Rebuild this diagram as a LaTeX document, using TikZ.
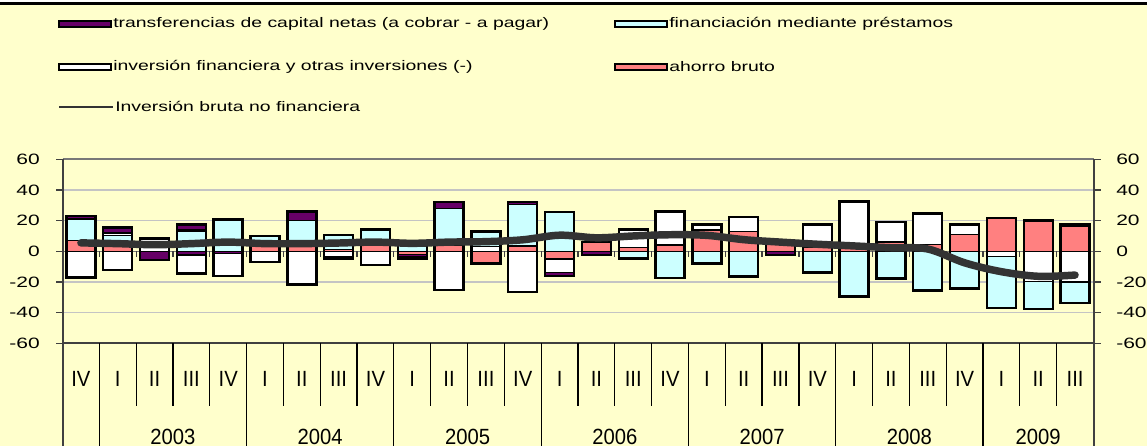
\documentclass[tikz,border=0pt]{standalone}
\usepackage{fontspec}
\setmainfont{Liberation Sans}[FakeStretch=1.4]
\newfontfamily\catfont{Liberation Sans}[FakeStretch=0.92]
\definecolor{bgY}{RGB}{255,255,204}
\definecolor{colTr}{RGB}{102,0,102}
\definecolor{colFi}{RGB}{204,255,255}
\definecolor{colIv}{RGB}{255,255,255}
\definecolor{colAh}{RGB}{255,128,128}
\definecolor{lineG}{RGB}{51,51,51}
\definecolor{gridG}{RGB}{196,196,196}
\definecolor{axisG}{RGB}{120,120,120}
\definecolor{axisD}{RGB}{64,64,64}
\begin{document}
\begin{tikzpicture}[x=0.75pt,y=-0.75pt,
  declare function={xc(\n)=62.5+36.82*(\n+0.5); yv(\u)=251.3-1.5333*\u;},
  seg/.style={draw=black,line width=1.05pt},
  outl/.style={draw=black,line width=1.8pt},
  swatch/.style={draw=black,line width=1.5pt},
  legtext/.style={anchor=west,inner sep=0pt,font=\fontsize{10.4pt}{12pt}\selectfont},
  vlab/.style={inner sep=0pt,font=\fontsize{11.25pt}{13pt}\selectfont},
  catlab/.style={inner sep=0pt,font=\catfont\fontsize{16.5pt}{18pt}\selectfont},
  sepline/.style={draw=black,line width=0.9pt},
  grid/.style={draw=gridG,line width=0.8pt},
  invline/.style={draw=lineG,line width=5.6pt,line cap=round,line join=round}
]
\useasboundingbox (0,0) rectangle (1147,446);
\fill[bgY] (0,0) rectangle (1147,446);
\fill[white] (0,0) rectangle (1147,2);
\fill[black] (0,2) rectangle (1147,5);

% legend
\filldraw[swatch,fill=colTr] (59,20.5) rectangle (111,26.5);
\node[legtext] (l1) at (113,23.5) {transferencias de capital netas (a cobrar - a pagar)};
\filldraw[swatch,fill=colFi] (615,20.5) rectangle (667,26.5);
\node[legtext] (l2) at (669,23.5) {financiación mediante préstamos};
\filldraw[swatch,fill=colIv] (59,64) rectangle (111,70);
\node[legtext] (l3) at (113,67) {inversión financiera y otras inversiones (-)};
\filldraw[swatch,fill=colAh] (615,64) rectangle (667,70);
\node[legtext] (l4) at (669,67) {ahorro bruto};
\draw[draw=lineG,line width=1.5pt] (59,106.5) -- (113,106.5);
\node[legtext] (l5) at (115,106.5) {Inversión bruta no financiera};

% grid
\foreach \v in {40,20,-20,-40}
  \draw[grid] (62.5,{yv(\v)}) -- (1093.5,{yv(\v)});
\draw[draw=axisG,line width=1.5pt] (62.5,{yv(60)}) -- (1093.5,{yv(60)});
\draw[draw=axisG,line width=0.9pt] (62.5,{yv(0)}) -- (1093.5,{yv(0)});
\foreach \k in {1,...,27}
  \draw[draw=axisD,line width=0.9pt] ({62.5+36.82*\k},{yv(0)}) -- ({62.5+36.82*\k},{yv(0)+6});

% value axes
\foreach \v in {60,40,20,0,-20,-40,-60}{
  \draw[draw=axisD,line width=1.2pt] (56,{yv(\v)}) -- (62.5,{yv(\v)});
  \draw[draw=axisD,line width=1.2pt] (1093.5,{yv(\v)}) -- (1101,{yv(\v)});
  \node[vlab,anchor=east] at (40,{yv(\v)}) {\v};
  \node[vlab,anchor=west] at (1116,{yv(\v)}) {\v};
}

% bars: segments
\foreach \i/\a/\b/\c in {
 0/0/7/colAh, 0/7/21/colFi, 0/21/23/colTr, 0/-17/0/colIv,
 1/0/3/colAh, 1/3/10.5/colFi, 1/10.5/12/colIv, 1/12/15.4/colTr, 1/-12/0/colIv,
 2/0/8.3/colIv, 2/-5.8/0/colTr,
 3/0/13/colFi, 3/13/14/colIv, 3/14/17.4/colTr, 3/-2.5/0/colTr, 3/-14.6/-2.5/colIv,
 4/0/20.7/colFi, 4/-1.5/0/colTr, 4/-16.3/-1.5/colIv,
 5/0/4/colAh, 5/4/10/colFi, 5/-7/0/colIv,
 6/0/4/colAh, 6/4/20.2/colFi, 6/20.2/26/colTr, 6/-21.7/0/colIv,
 7/0/1/colAh, 7/1/10.8/colFi, 7/-3.3/0/colIv, 7/-4.8/-3.3/colTr,
 8/0/4/colAh, 8/4/14.1/colFi, 8/-9/0/colIv,
 9/0/4.5/colFi, 9/-2.2/0/colAh, 9/-3.2/-2.2/colTr, 9/-4.8/-3.2/colAh,
 10/0/4/colAh, 10/4/28/colFi, 10/28/32.2/colTr, 10/-25.4/0/colIv,
 11/0/3.3/colIv, 11/3.3/13/colFi, 11/-8/0/colAh,
 12/0/3.5/colAh, 12/3.5/30.5/colFi, 12/30.5/32.2/colTr, 12/-26.5/0/colIv,
 13/0/25.7/colFi, 13/-5/0/colAh, 13/-14/-5/colIv, 13/-16/-14/colTr,
 14/0/6/colAh, 14/-2.3/0/colTr,
 15/0/2.3/colAh, 15/2.3/14.1/colIv, 15/-4.8/0/colFi,
 16/0/4/colAh, 16/4/26/colIv, 16/-17.5/0/colFi,
 17/0/14/colAh, 17/14/17.4/colIv, 17/-8/0/colFi,
 18/0/13/colAh, 18/13/22.4/colIv, 18/-16.5/0/colFi,
 19/0/6/colAh, 19/-2.5/0/colTr,
 20/0/2.5/colAh, 20/2.5/17.4/colIv, 20/-13.9/0/colFi,
 21/0/2/colAh, 21/2/32.4/colIv, 21/-29.6/0/colFi,
 22/0/6/colAh, 22/6/19.1/colIv, 22/-17.8/0/colFi,
 23/0/4.5/colAh, 23/4.5/24.6/colIv, 23/-25.6/0/colFi,
 24/0/11/colAh, 24/11/17.4/colIv, 24/-24.3/0/colFi,
 25/0/21.9/colAh, 25/-3.3/0/colIv, 25/-36.8/-3.3/colFi,
 26/0/20.2/colAh, 26/-19.5/0/colIv, 26/-37.7/-19.5/colFi,
 27/0/16.5/colAh, 27/16.5/18/colTr, 27/-20/0/colIv, 27/-33.9/-20/colFi}
  \filldraw[seg,fill=\c] ({xc(\i)-14.5},{yv(\a)}) rectangle ({xc(\i)+14.5},{yv(\b)});

% bars: outlines
\foreach \i/\a/\b in {0/-17/23, 1/-12/15.4, 2/-5.8/8.3, 3/-14.6/17.4, 4/-16.3/20.7,
 5/-7/10, 6/-21.7/26, 7/-4.8/10.8, 8/-9/14.1, 9/-4.8/4.5, 10/-25.4/32.2,
 11/-8/13, 12/-26.5/32.2, 13/-16/25.7, 14/-2.3/6, 15/-4.8/14.1, 16/-17.5/26,
 17/-8/17.4, 18/-16.5/22.4, 19/-2.5/6, 20/-13.9/17.4, 21/-29.6/32.4,
 22/-17.8/19.1, 23/-25.6/24.6, 24/-24.3/17.4, 25/-36.8/21.9, 26/-37.7/20.2,
 27/-33.9/18}
  \draw[outl] ({xc(\i)-14.5},{yv(\a)}) rectangle ({xc(\i)+14.5},{yv(\b)});

% line
\draw[invline] plot[smooth,tension=0.55] coordinates {
 ({xc(0)},{yv(5.5)}) ({xc(1)},{yv(5)}) ({xc(2)},{yv(4.3)}) ({xc(3)},{yv(5)})
 ({xc(4)},{yv(6)}) ({xc(5)},{yv(5)}) ({xc(6)},{yv(5)}) ({xc(7)},{yv(5.4)})
 ({xc(8)},{yv(6)}) ({xc(9)},{yv(5.2)}) ({xc(10)},{yv(6)}) ({xc(11)},{yv(6.3)})
 ({xc(12)},{yv(7.5)}) ({xc(13)},{yv(10.5)}) ({xc(14)},{yv(8.8)}) ({xc(15)},{yv(10)})
 ({xc(16)},{yv(10.8)}) ({xc(17)},{yv(10.4)}) ({xc(18)},{yv(7.6)}) ({xc(19)},{yv(6)})
 ({xc(20)},{yv(4.6)}) ({xc(21)},{yv(3.5)}) ({xc(22)},{yv(2.3)}) ({xc(23)},{yv(1.5)})
 ({xc(24)},{yv(-7.5)}) ({xc(25)},{yv(-13.3)}) ({xc(26)},{yv(-16.3)}) ({xc(27)},{yv(-15.5)})};

% bottom axis lines
\draw[draw=axisD,line width=1.5pt] (62.5,{yv(-60)}) -- (1093.5,{yv(-60)});
\draw[draw=axisD,line width=1.5pt] (62.5,{yv(60)}) -- (62.5,446);
\draw[draw=axisD,line width=1.5pt] (1093.5,{yv(60)}) -- (1093.5,446);
\foreach \k in {1,...,27}{
  \pgfmathtruncatemacro\r{mod(\k-1,4)}
  \ifnum\r=0
    \draw[sepline] ({62.5+36.82*\k},{yv(-60)}) -- ({62.5+36.82*\k},446);
  \else
    \draw[sepline] ({62.5+36.82*\k},{yv(-60)}) -- ({62.5+36.82*\k},406);
  \fi
}
\foreach \q [count=\k from 0] in {IV,I,II,III,IV,I,II,III,IV,I,II,III,IV,I,II,III,IV,I,II,III,IV,I,II,III,IV,I,II,III}
  \node[catlab] (q\k) at ({xc(\k)},378.5) {\q};
\foreach \yr [count=\k from 0] in {2003,2004,2005,2006,2007,2008}
  \node[catlab,anchor=base] (y\k) at ({62.5+36.82*(3+4*\k)},444) {\yr};
\node[catlab,anchor=base] (y6) at ({62.5+36.82*26.5},444) {2009};
\end{tikzpicture}
\end{document}
